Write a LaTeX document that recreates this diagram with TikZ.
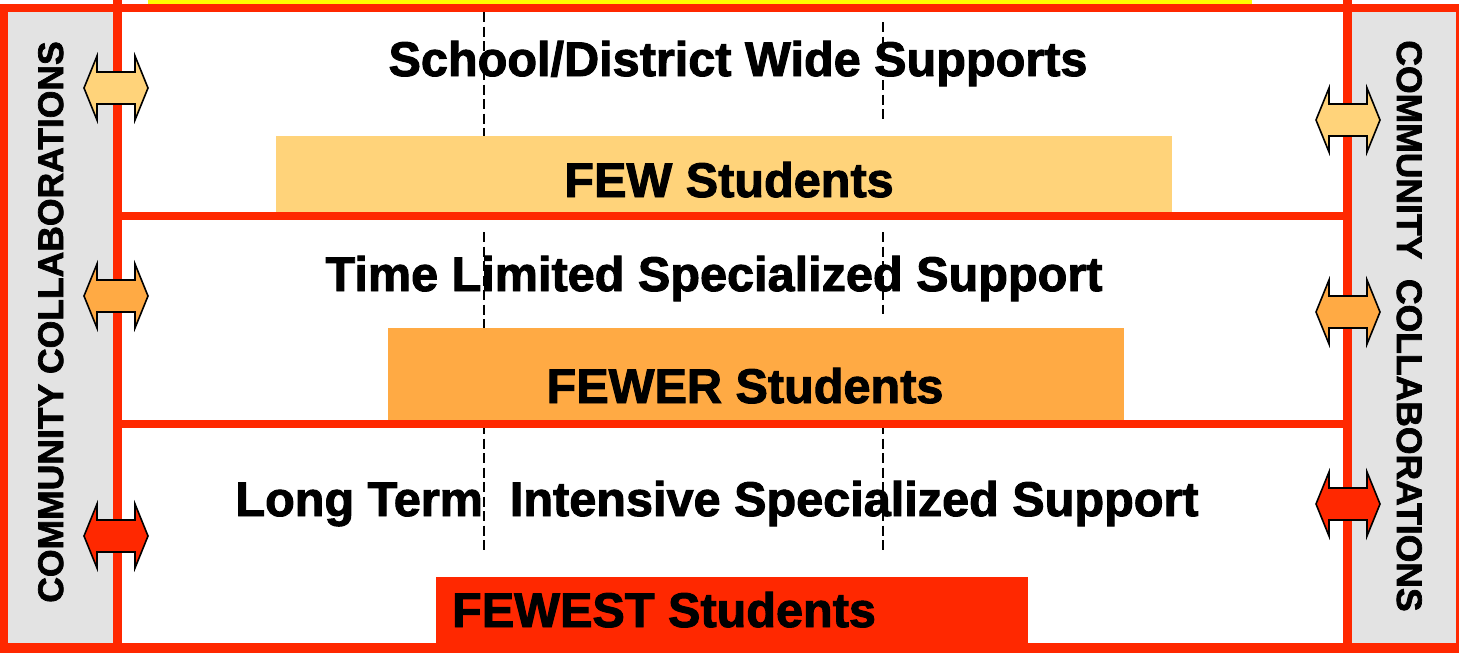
\documentclass[tikz,border=0pt]{standalone}
\usepackage{fontspec}
\setmainfont{Liberation Sans}[BoldFeatures={FakeBold=2}]
\usetikzlibrary{calc}

\definecolor{framered}{HTML}{FF2800}
\definecolor{panelgray}{HTML}{E3E3E3}
\definecolor{topyellow}{HTML}{FFFF00}
\definecolor{tierone}{HTML}{FFD37A}
\definecolor{tiertwo}{HTML}{FFAA44}
\definecolor{tierthree}{HTML}{FF2800}

\begin{document}
\begin{tikzpicture}[
  x=1pt,y=-1pt,
  redline/.style={draw=framered,line width=9pt},
  guide/.style={draw=black,line width=1.6pt,dash pattern=on 10pt off 4.5pt},
  tierbar/.style={fill=#1,draw=none},
  headline/.style={font=\bfseries\fontsize{48.6}{56}\selectfont,inner sep=0pt,anchor=base},
  sidelabel/.style={font=\bfseries\fontsize{35.5}{42}\selectfont,inner sep=0pt,anchor=base},
  twoway/.pic={
    \draw[pic actions,draw=black,line width=1.6pt,line join=miter]
      (-32,0) -- (-19,-32) -- (-19,-16) -- (19,-16) -- (19,-32) -- (32,0)
      -- (19,32) -- (19,16) -- (-19,16) -- (-19,32) -- cycle;
  }
]
  \useasboundingbox (0,0) rectangle (1459,654);
  \fill[white] (0,0) rectangle (1459,654);

  % side panels and the strip above
  \fill[panelgray] (4,8) rectangle (117.5,648);
  \fill[panelgray] (1347.5,8) rectangle (1460,648);
  \fill[topyellow] (148,0) rectangle (1252,4);

  % dashed guides behind the bars
  \draw[guide] (484,12) -- (484,136);
  \draw[guide] (883,22) -- (883,120);
  \draw[guide] (484,232) -- (484,328);
  \draw[guide] (883,232) -- (883,314);
  \draw[guide] (484,424) -- (484,552);
  \draw[guide] (883,424) -- (883,552);

  % student bars
  \fill[tierbar=tierone] (276,136) rectangle (1172,216);
  \fill[tierbar=tiertwo] (388,328) rectangle (1124,424);
  \fill[tierbar=tierthree] (436,577) rectangle (1028,648);

  % tier texts
  \node[headline] (wide) at (738,76) {School/District Wide Supports};
  \node[headline] (few) at (729,197) {FEW Students};
  \node[headline] (limited) at (714,291) {Time Limited Specialized Support};
  \node[headline] (fewer) at (745,403) {FEWER Students};
  \node[headline] (longterm) at (717,516) {Long Term\ \ Intensive Specialized Support};
  \node[headline] (fewest) at (664,627) {FEWEST Students};

  % side texts
  \node[sidelabel,rotate=90] (collabL) at (63,322) {COMMUNITY COLLABORATIONS};
  \node[sidelabel,rotate=-90] (collabR) at (1397,326) {COMMUNITY\ \ COLLABORATIONS};

  % red frame
  \draw[redline,line width=8pt] (0,8) -- (1459,8);
  \draw[redline,line width=8pt] (4,4) -- (4,652);
  \draw[redline,line width=8pt] (1460,4) -- (1460,652);
  \draw[redline] (117.5,0) -- (117.5,653);
  \draw[redline] (1347.5,0) -- (1347.5,653);
  \draw[redline,line width=10pt] (0,648) -- (1459,648);
  \draw[redline,line width=8pt] (117.5,216) -- (1347.5,216);
  \draw[redline,line width=8pt] (117.5,424) -- (1347.5,424);

  % two-way arrows across the panel lines
  \pic[fill=tierone] (arrL1) at (116,88) {twoway};
  \pic[fill=tiertwo] (arrL2) at (116,296) {twoway};
  \pic[fill=tierthree] (arrL3) at (116,536) {twoway};
  \pic[fill=tierone] (arrR1) at (1348,120) {twoway};
  \pic[fill=tiertwo] (arrR2) at (1348,312) {twoway};
  \pic[fill=tierthree] (arrR3) at (1348,504) {twoway};
\end{tikzpicture}
\end{document}
